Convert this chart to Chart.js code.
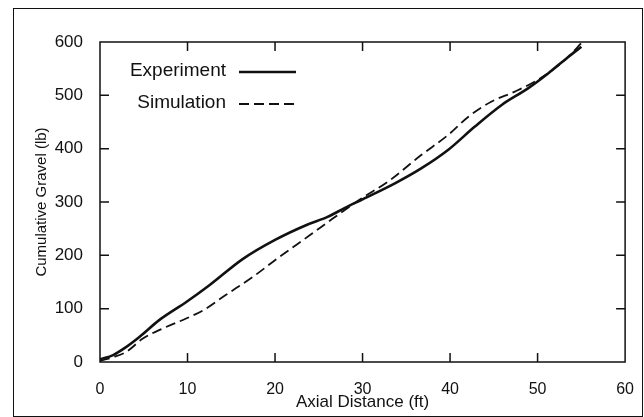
<!DOCTYPE html>
<html>
<head>
<meta charset="utf-8">
<script src="https://cdn.jsdelivr.net/npm/chart.js@4.4.1/dist/chart.umd.min.js"></script>
<style>
html, body { margin: 0; padding: 0; background: #fff; }
#wrap { width: 644px; height: 417px; position: relative; }
</style>
</head>
<body>
<div id="wrap"><canvas id="myChart"></canvas></div>
<script>
// values
const expDistance = [0, 1.5, 2.8, 4.5, 6.8, 9.9, 12.5, 16.3, 20, 23.6, 26, 28, 30, 33.7, 36.7, 39.8, 42.8, 45.9, 48.9, 51.2, 53.5, 55];
const expGravel = [5, 13, 26, 47, 79, 113, 144, 193, 229, 257, 272, 289, 305, 335, 363, 398, 441, 482, 513, 541, 572, 591];

const simDistance = [0, 1.5, 3, 4.9, 7.2, 9.9, 11.8, 14.4, 17.5, 20.5, 24, 26.6, 29.9, 32.9, 36.7, 39.8, 42.1, 44.7, 47.4, 49.7, 52, 53.5, 55];
const simGravel = [2, 9, 19, 44, 63, 82, 97, 126, 160, 197, 238, 269, 307, 338, 388, 426, 460, 488, 507, 526, 551, 572, 598];

const xTicks = [0, 10, 20, 30, 40, 50, 60];
const yTicks = [0, 100, 200, 300, 400, 500, 600];

const ink = '#111';
const fontFamily = '"Liberation Sans", Arial, Helvetica, sans-serif';

function toPoints(xs, ys) {
    return xs.map((x, i) => ({ x: x, y: ys[i] }));
}

// box frame, inward ticks, outer border and the inline legend
const framePlugin = {
    id: 'frame',
    afterDraw(chart) {
        const { ctx, chartArea: a, scales: { x, y } } = chart;
        ctx.save();
        ctx.strokeStyle = ink;

        // outer border of the figure
        ctx.lineWidth = 1;
        ctx.strokeRect(13.5, 8.5, 629, 408);

        // plot box
        ctx.lineWidth = 1.5;
        ctx.strokeRect(a.left, a.top, a.right - a.left, a.bottom - a.top);

        const len = 9;
        ctx.beginPath();
        xTicks.forEach(v => {
            if (v <= x.min || v >= x.max) return;
            const px = x.getPixelForValue(v);
            ctx.moveTo(px, a.bottom); ctx.lineTo(px, a.bottom - len);
            ctx.moveTo(px, a.top); ctx.lineTo(px, a.top + len);
        });
        yTicks.forEach(v => {
            if (v <= y.min || v >= y.max) return;
            const py = y.getPixelForValue(v);
            ctx.moveTo(a.left, py); ctx.lineTo(a.left + len, py);
            ctx.moveTo(a.right, py); ctx.lineTo(a.right - len, py);
        });
        ctx.stroke();

        // legend: text first, line sample after it
        ctx.font = '19px ' + fontFamily;
        ctx.fillStyle = ink;
        ctx.textAlign = 'right';
        ctx.textBaseline = 'middle';
        const textRight = a.left + 126;
        chart.data.datasets.forEach((ds, i) => {
            const ly = a.top + 29 + i * 32;
            ctx.fillText(ds.label, textRight, ly);
            ctx.beginPath();
            ctx.lineWidth = ds.borderWidth;
            ctx.setLineDash(ds.borderDash || []);
            ctx.moveTo(textRight + 13, ly + 1);
            ctx.lineTo(textRight + 70, ly + 1);
            ctx.stroke();
        });
        ctx.restore();
    }
};

const ctx = document.getElementById('myChart');
const myChart = new Chart(ctx, {
    type: 'line',
    data: {
        datasets: [{
            label: 'Experiment',
            data: toPoints(expDistance, expGravel),
            borderColor: ink,
            borderWidth: 2.6,
            pointRadius: 0,
            cubicInterpolationMode: 'monotone',
            fill: false
        }, {
            label: 'Simulation',
            data: toPoints(simDistance, simGravel),
            borderColor: ink,
            borderWidth: 1.8,
            borderDash: [10, 5],
            pointRadius: 0,
            cubicInterpolationMode: 'monotone',
            fill: false
        }]
    },
    options: {
        responsive: true,
        maintainAspectRatio: false,
        animation: false,
        devicePixelRatio: 1,
        layout: {
            padding: { top: 42, right: 17, left: 0, bottom: 0 }
        },
        scales: {
            x: {
                type: 'linear',
                min: 0,
                max: 60,
                afterFit: s => { s.height = 55; },
                afterBuildTicks: s => { s.ticks = xTicks.map(v => ({ value: v })); },
                grid: { display: false },
                border: { display: false },
                ticks: {
                    color: ink,
                    padding: 10,
                    font: { size: 16, family: fontFamily }
                },
                title: {
                    display: true,
                    text: 'Axial Distance (ft)',
                    color: ink,
                    font: { size: 17, family: fontFamily },
                    padding: { top: 0, bottom: 4 }
                }
            },
            y: {
                min: 0,
                max: 600,
                afterFit: s => { s.width = 100; },
                afterBuildTicks: s => { s.ticks = yTicks.map(v => ({ value: v })); },
                grid: { display: false },
                border: { display: false },
                ticks: {
                    color: ink,
                    padding: 9,
                    font: { size: 17, family: fontFamily }
                },
                title: {
                    display: true,
                    text: 'Cumulative Gravel (lb)',
                    color: ink,
                    font: { size: 15, family: fontFamily },
                    padding: { top: 33, bottom: 0 }
                }
            }
        },
        plugins: {
            legend: { display: false },
            tooltip: { enabled: false }
        }
    },
    plugins: [framePlugin]
});
</script>
</body>
</html>
